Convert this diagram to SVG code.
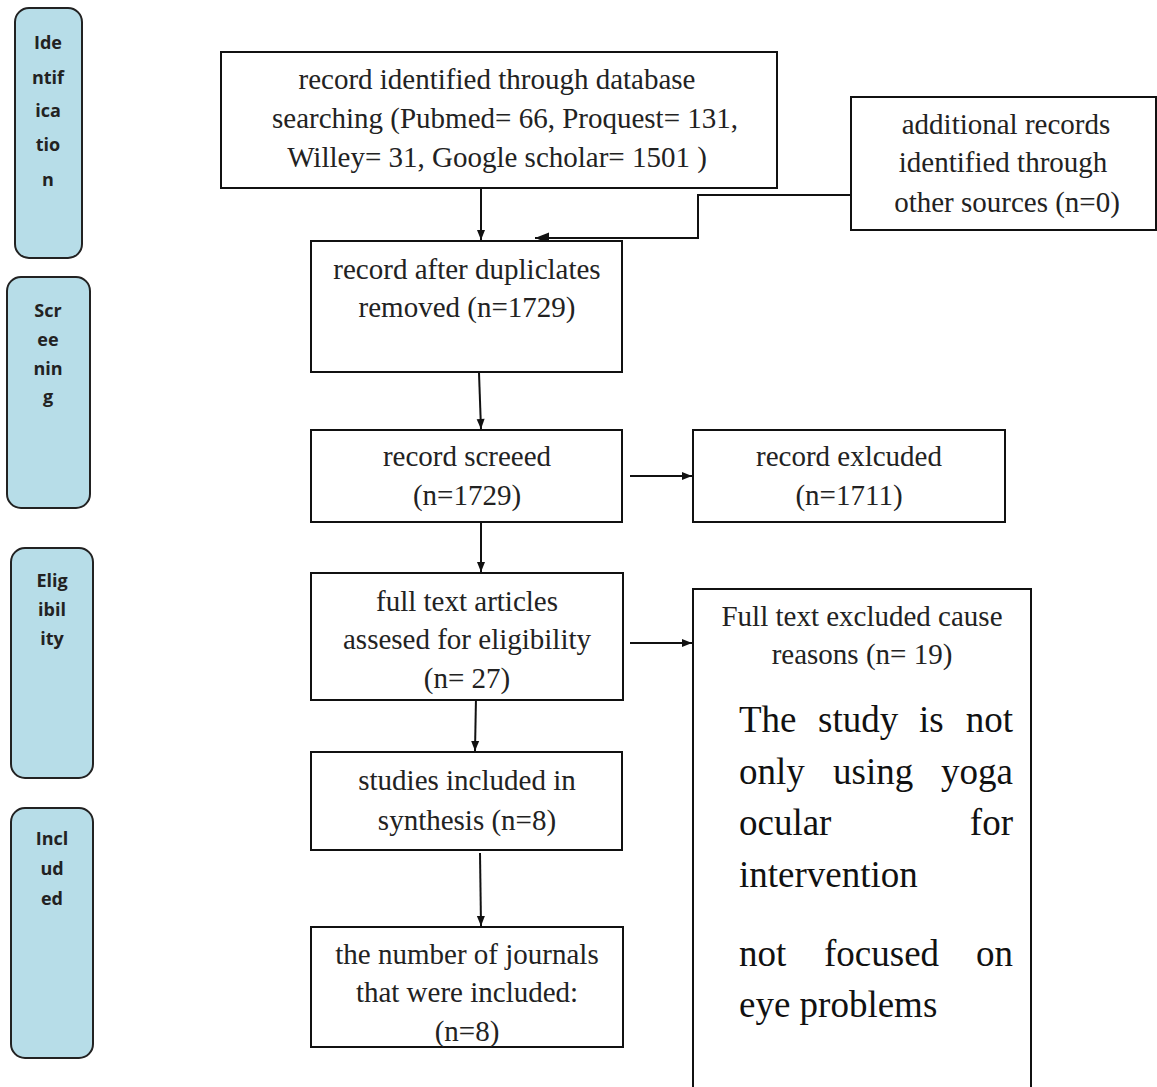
<svg xmlns="http://www.w3.org/2000/svg" width="1157" height="1087" viewBox="0 0 1157 1087">
<style>
.box{fill:#fff;stroke:#111;stroke-width:2}
.side{fill:#b7dde8;stroke:#222;stroke-width:2}
.st{font-family:"Open Sans","Liberation Sans",sans-serif;font-weight:bold;font-size:18px;fill:#222;text-anchor:middle}
.t{font-family:"Liberation Serif","Times New Roman",serif;font-size:29px;fill:#222;text-anchor:middle}
.b{font-family:"Liberation Serif","Times New Roman",serif;font-size:37px;fill:#111}
.c{fill:none;stroke:#111;stroke-width:2}
</style>
<defs>
<marker id="ah" viewBox="0 0 10 10" refX="10" refY="5" markerWidth="6" markerHeight="5" orient="auto" markerUnits="strokeWidth">
<path d="M0,1 L10,5 L0,9 Z" fill="#111"/>
</marker>
<marker id="ahl" viewBox="0 0 10 10" refX="10" refY="5" markerWidth="9" markerHeight="7" orient="auto" markerUnits="strokeWidth">
<path d="M0,1 L10,5 L0,9 Z" fill="#111"/>
</marker>
</defs>
<rect width="1157" height="1087" fill="#fff"/>

<g id="side-identification">
<rect class="side" x="15" y="8" width="67" height="250" rx="14"/>
<text class="st" x="48" y="49">Ide</text>
<text class="st" x="48" y="84">ntif</text>
<text class="st" x="48" y="117">ica</text>
<text class="st" x="48" y="151">tio</text>
<text class="st" x="48" y="186">n</text>
</g>
<g id="side-screening">
<rect class="side" x="7" y="277" width="83" height="231" rx="14"/>
<text class="st" x="48" y="317">Scr</text>
<text class="st" x="48" y="346">ee</text>
<text class="st" x="48" y="375">nin</text>
<text class="st" x="48" y="403">g</text>
</g>
<g id="side-eligibility">
<rect class="side" x="11" y="548" width="82" height="230" rx="14"/>
<text class="st" x="52" y="587">Elig</text>
<text class="st" x="52" y="616">ibil</text>
<text class="st" x="52" y="645">ity</text>
</g>
<g id="side-included">
<rect class="side" x="11" y="808" width="82" height="250" rx="14"/>
<text class="st" x="52" y="845">Incl</text>
<text class="st" x="52" y="875">ud</text>
<text class="st" x="52" y="905">ed</text>
</g>

<g id="connectors">
<line class="c" x1="481" y1="152" x2="481" y2="240" marker-end="url(#ah)"/>
<polyline class="c" points="851,195 698,195 698,238 535,238" marker-end="url(#ahl)"/>
<line class="c" x1="479" y1="373" x2="481" y2="429" marker-end="url(#ah)"/>
<line class="c" x1="630" y1="476" x2="692" y2="476" marker-end="url(#ah)"/>
<line class="c" x1="481" y1="522" x2="481" y2="572" marker-end="url(#ah)"/>
<line class="c" x1="630" y1="643" x2="692" y2="643" marker-end="url(#ah)"/>
<line class="c" x1="476" y1="697" x2="475" y2="751" marker-end="url(#ah)"/>
<line class="c" x1="480" y1="853" x2="481" y2="926" marker-end="url(#ah)"/>
</g>

<g id="n-database">
<rect class="box" x="221" y="52" width="556" height="136"/>
<text class="t" x="497" y="89">record identified through database</text>
<text class="t" x="505" y="128">searching (Pubmed= 66, Proquest= 131,</text>
<text class="t" x="497" y="167">Willey= 31, Google scholar= 1501 )</text>
</g>
<g id="n-additional">
<rect class="box" x="851" y="97" width="305" height="133"/>
<text class="t" x="1006" y="134">additional records</text>
<text class="t" x="1003" y="172">identified through</text>
<text class="t" x="1007" y="212">other sources (n=0)</text>
</g>
<g id="n-duplicates">
<rect class="box" x="311" y="241" width="311" height="131"/>
<text class="t" x="467" y="279">record after dupliclates</text>
<text class="t" x="467" y="317">removed (n=1729)</text>
</g>
<g id="n-screened">
<rect class="box" x="311" y="430" width="311" height="92"/>
<text class="t" x="467" y="466">record screeed</text>
<text class="t" x="467" y="505">(n=1729)</text>
</g>
<g id="n-excluded">
<rect class="box" x="693" y="430" width="312" height="92"/>
<text class="t" x="849" y="466">record exlcuded</text>
<text class="t" x="849" y="505">(n=1711)</text>
</g>
<g id="n-fulltext">
<rect class="box" x="311" y="573" width="312" height="127"/>
<text class="t" x="467" y="611">full text articles</text>
<text class="t" x="467" y="649">assesed for eligibility</text>
<text class="t" x="467" y="688">(n= 27)</text>
</g>
<g id="n-fulltext-excluded">
<rect class="box" x="693" y="589" width="338" height="510"/>
<text class="t" x="862" y="626">Full text excluded cause</text>
<text class="t" x="862" y="664">reasons (n= 19)</text>
<text class="b" x="739" y="732">The</text>
<text class="b" x="818" y="732">study</text>
<text class="b" x="919" y="732">is</text>
<text class="b" x="1013" y="732" text-anchor="end">not</text>
<text class="b" x="739" y="784">only</text>
<text class="b" x="833" y="784">using</text>
<text class="b" x="1013" y="784" text-anchor="end">yoga</text>
<text class="b" x="739" y="835">ocular</text>
<text class="b" x="1013" y="835" text-anchor="end">for</text>
<text class="b" x="739" y="887">intervention</text>
<text class="b" x="739" y="966">not</text>
<text class="b" x="824" y="966">focused</text>
<text class="b" x="1013" y="966" text-anchor="end">on</text>
<text class="b" x="739" y="1017">eye problems</text>
</g>
<g id="n-studies">
<rect class="box" x="311" y="752" width="311" height="98"/>
<text class="t" x="467" y="790">studies included in</text>
<text class="t" x="467" y="830">synthesis (n=8)</text>
</g>
<g id="n-journals">
<rect class="box" x="311" y="927" width="312" height="120"/>
<text class="t" x="467" y="964">the number of journals</text>
<text class="t" x="467" y="1002">that were included:</text>
<text class="t" x="467" y="1041">(n=8)</text>
</g>
</svg>
